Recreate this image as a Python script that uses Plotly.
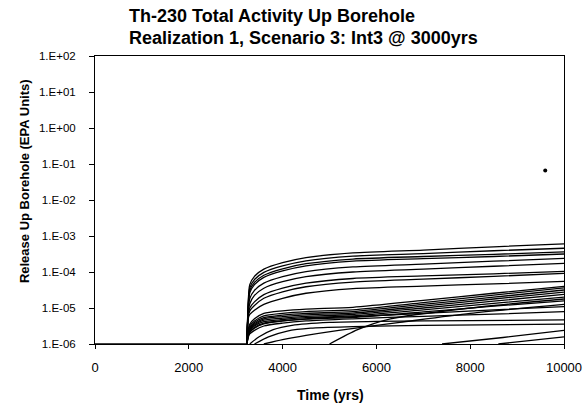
import plotly.graph_objects as go

# ---------------- data (log10 of release, EPA units) ----------------
time_grid = [3240, 3265, 3300, 3400, 3600, 4000, 4500, 5500, 7000, 8500, 10000]

# fast-rising upper curves
u1 = [-6, -4.90, -4.35, -4.12, -3.92, -3.74, -3.60, -3.47, -3.39, -3.30, -3.22]
u2 = [-6, -4.95, -4.44, -4.21, -4.01, -3.83, -3.69, -3.56, -3.49, -3.41, -3.34]
u3 = [-6, -5.00, -4.52, -4.29, -4.09, -3.91, -3.77, -3.64, -3.57, -3.51, -3.44]
u4 = [-6, -5.05, -4.58, -4.35, -4.15, -3.97, -3.83, -3.70, -3.63, -3.57, -3.50]
u5 = [-6, -5.10, -4.74, -4.51, -4.31, -4.13, -3.99, -3.86, -3.78, -3.70, -3.62]
u6 = [-6, -5.15, -4.88, -4.65, -4.45, -4.27, -4.13, -4.00, -3.92, -3.84, -3.76]
u7 = [-6, -5.20, -5.00, -4.83, -4.63, -4.45, -4.31, -4.18, -4.11, -4.05, -3.98]
u8 = [-6, -5.25, -5.08, -4.93, -4.73, -4.55, -4.41, -4.28, -4.20, -4.12, -4.04]
u9 = [-6, -5.30, -5.18, -5.06, -4.90, -4.73, -4.59, -4.46, -4.39, -4.33, -4.26]

# middle band
m1 = [-6, -5.60, -5.45, -5.30, -5.15, -5.08, -5.03, -4.98, -4.79, -4.59, -4.40]
m2 = [-6, -5.65, -5.50, -5.36, -5.22, -5.15, -5.10, -5.05, -4.85, -4.64, -4.44]
m3 = [-6, -5.70, -5.55, -5.40, -5.27, -5.20, -5.15, -5.10, -4.90, -4.70, -4.50]
m4 = [-6, -5.72, -5.58, -5.44, -5.30, -5.24, -5.19, -5.14, -4.95, -4.75, -4.56]
m5 = [-6, -5.74, -5.60, -5.47, -5.34, -5.28, -5.23, -5.18, -5.00, -4.81, -4.62]
m6 = [-6, -5.76, -5.63, -5.50, -5.38, -5.32, -5.27, -5.22, -5.05, -4.87, -4.70]
m7 = [-6, -5.78, -5.66, -5.54, -5.42, -5.36, -5.31, -5.26, -5.11, -4.95, -4.80]
m8 = [-6, -5.80, -5.68, -5.56, -5.44, -5.36, -5.30, -5.24, -5.15, -5.05, -4.96]
m9 = [-6, -5.82, -5.72, -5.62, -5.50, -5.42, -5.36, -5.30, -5.23, -5.17, -5.10]

# later-starting lower curves
l1_t = [3300, 3500, 3800, 4200, 5000, 6000, 8000, 10000]
l1_v = [-6, -5.80, -5.60, -5.48, -5.40, -5.37, -5.35, -5.33]
l2_t = [3400, 3700, 4100, 4600, 5500, 7000, 10000]
l2_v = [-6, -5.80, -5.64, -5.56, -5.52, -5.48, -5.45]
l3_t = [3600, 4000, 4500, 5200, 6500, 8000, 10000]
l3_v = [-6, -5.88, -5.76, -5.62, -5.40, -5.15, -4.90]
l4_t = [5000, 5600, 6300, 8000, 10000]
l4_v = [-6, -5.60, -5.30, -5.00, -4.75]
l5_t = [7400, 8700, 10000]
l5_v = [-6, -5.82, -5.62]
l6_t = [8600, 10000]
l6_v = [-6, -5.80]

baseline_t = [0, 3240]
baseline_v = [-6, -6]

outlier_t = [9600]
outlier_v = [-1.18]

y_tick_exp = [-6, -5, -4, -3, -2, -1, 0, 1, 2]
y_tick_text = ["1.E-06", "1.E-05", "1.E-04", "1.E-03", "1.E-02",
               "1.E-01", "1.E+00", "1.E+01", "1.E+02"]
x_ticks = [0, 2000, 4000, 6000, 8000, 10000]

# ---------------- figure ----------------
fig = go.Figure()

line_style = dict(color="black", width=1.3, shape="spline", smoothing=0.7)

grid_curves = [u1, u2, u3, u4, u5, u6, u7, u8, u9,
               m1, m2, m3, m4, m5, m6, m7, m8, m9]
for vals in grid_curves:
    fig.add_trace(go.Scatter(x=time_grid, y=[10 ** v for v in vals],
                             mode="lines", line=line_style, hoverinfo="skip"))

for tt, vv in [(l1_t, l1_v), (l2_t, l2_v), (l3_t, l3_v), (l4_t, l4_v),
               (l5_t, l5_v), (l6_t, l6_v), (baseline_t, baseline_v)]:
    fig.add_trace(go.Scatter(x=tt, y=[10 ** v for v in vv], mode="lines",
                             line=line_style, hoverinfo="skip"))

fig.add_trace(go.Scatter(x=outlier_t, y=[10 ** v for v in outlier_v],
                         mode="markers", marker=dict(color="black", size=4),
                         hoverinfo="skip"))

font_family = "Liberation Sans, Arial, sans-serif"

fig.update_layout(
    width=585, height=410,
    margin=dict(l=95, r=21, t=56, b=66, autoexpand=False),
    paper_bgcolor="white", plot_bgcolor="white",
    showlegend=False,
    font=dict(family=font_family, color="black", size=11),
)

fig.update_xaxes(
    range=[0, 10000], tickvals=x_ticks, ticktext=[str(v) for v in x_ticks],
    showgrid=False, zeroline=False, showline=True, linecolor="black",
    linewidth=1, mirror=True, ticks="outside", ticklen=4, tickcolor="black",
    tickfont=dict(size=13, family=font_family), ticklabelstandoff=7,
    automargin=False,
)
fig.update_yaxes(
    type="log", range=[-6, 2], tickvals=[10 ** e for e in y_tick_exp],
    ticktext=y_tick_text, showgrid=False, zeroline=False, showline=True,
    linecolor="black", linewidth=1, mirror=True, ticks="outside", ticklen=5,
    tickcolor="black", tickfont=dict(size=11.5, family=font_family),
    ticklabelstandoff=11, automargin=False,
)

title_font = dict(family=font_family, size=18, color="black")
fig.add_annotation(text="<b>Th-230 Total Activity Up Borehole</b>",
                   xref="paper", yref="paper", x=0.068, y=1.139,
                   xanchor="left", yanchor="middle", showarrow=False,
                   font=title_font)
fig.add_annotation(text="<b>Realization 1, Scenario 3: Int3 @ 3000yrs</b>",
                   xref="paper", yref="paper", x=0.068, y=1.0625,
                   xanchor="left", yanchor="middle", showarrow=False,
                   font=title_font)
fig.add_annotation(text="<b>Release Up Borehole (EPA Units)</b>",
                   xref="paper", yref="paper", x=-0.149, y=0.566,
                   xanchor="center", yanchor="middle", textangle=-90,
                   showarrow=False, font=dict(family=font_family, size=13))
fig.add_annotation(text="<b>Time (yrs)</b>",
                   xref="paper", yref="paper", x=0.503, y=-0.177,
                   xanchor="center", yanchor="middle", showarrow=False,
                   font=dict(family=font_family, size=14))

fig.write_html(
    "out.html",
    config={"displayModeBar": False},
    post_script="document.body.style.margin='0';"
                "document.body.style.overflow='hidden';",
)
